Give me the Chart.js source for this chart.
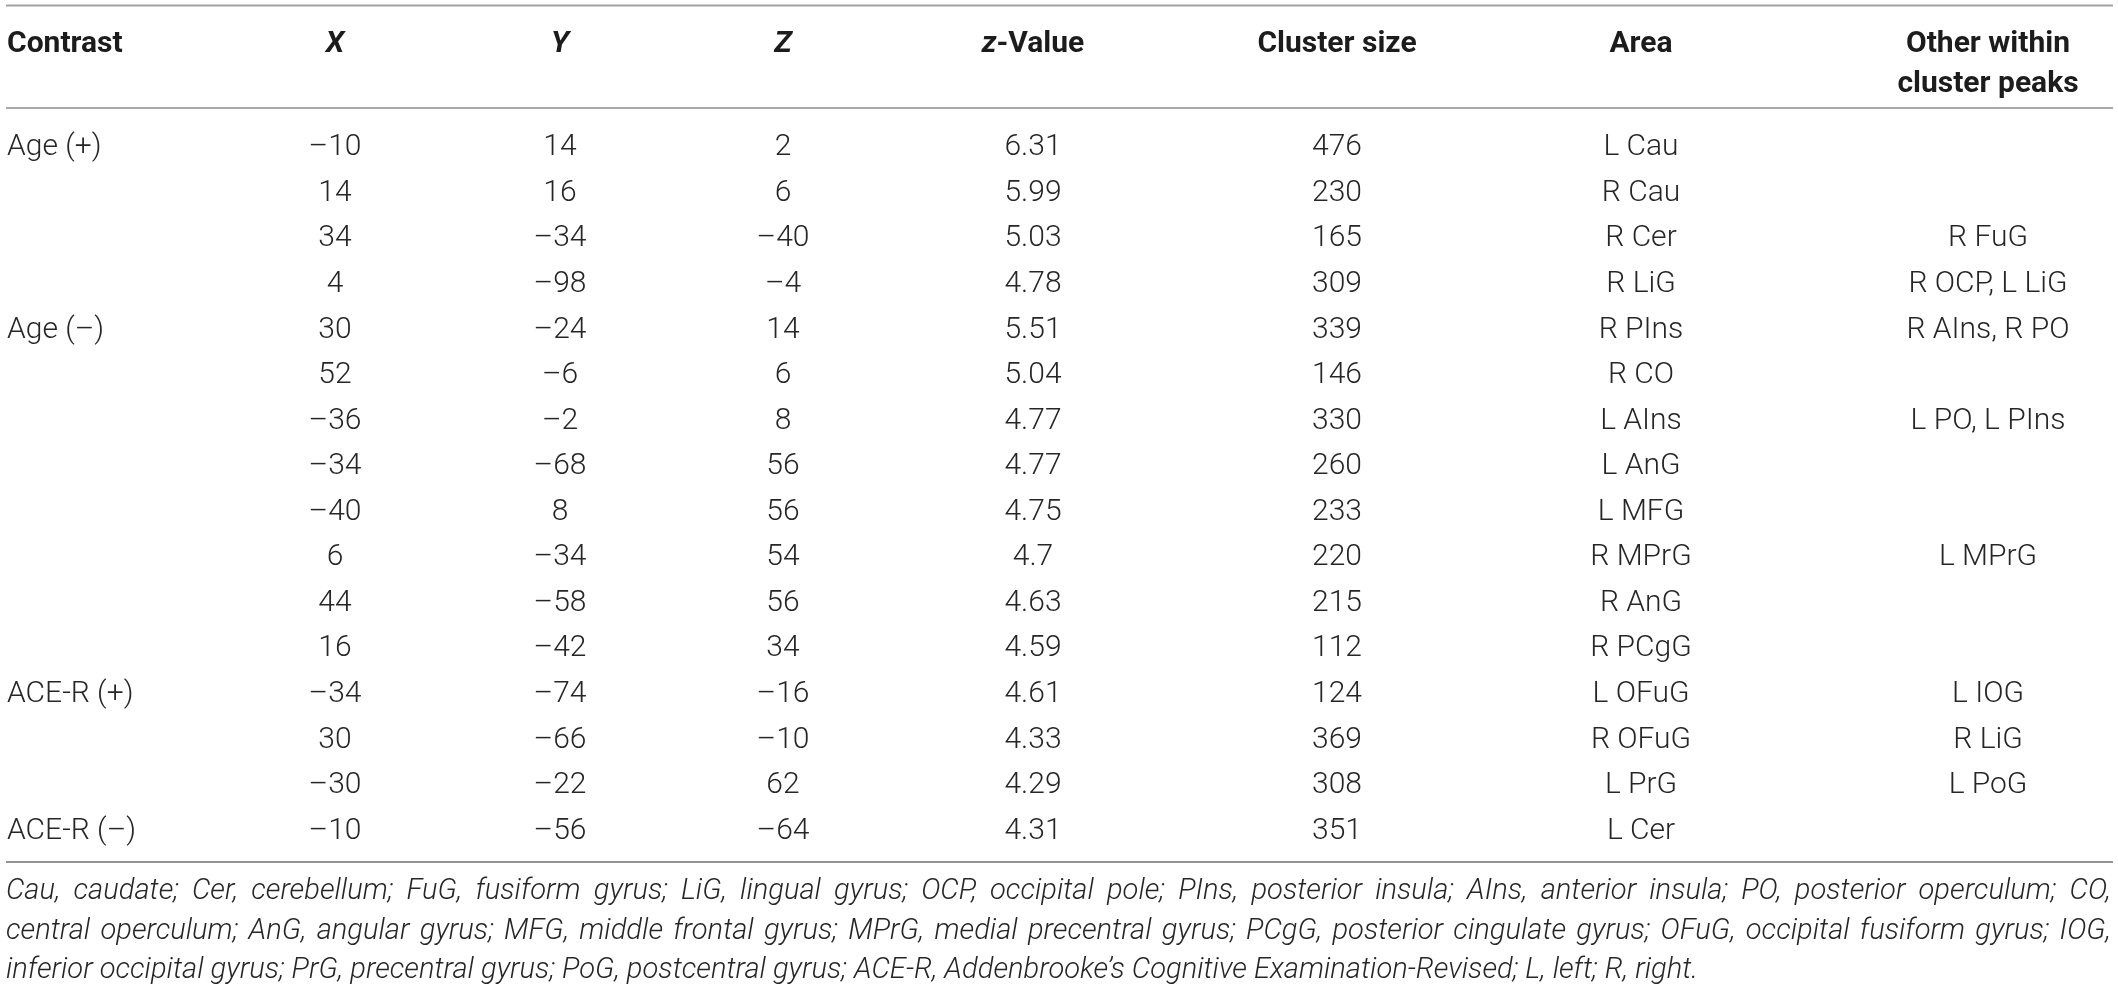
<!DOCTYPE html>
<html>
<head>
<meta charset="utf-8">
<script src="https://cdn.jsdelivr.net/npm/chart.js@4.4.1/dist/chart.umd.min.js"></script>
<style>
  html, body { margin: 0; padding: 0; background: #fff; }
  #wrap { width: 2118px; height: 986px; }
</style>
</head>
<body>
<div id="wrap"><canvas id="tabela" width="2118" height="986"></canvas></div>
<script>
// dados da tabela (uma linha por pico)
const contrasts = ['Age (+)', '', '', '', 'Age (\u2013)', '', '', '', '', '', '', '', 'ACE-R (+)', '', '', 'ACE-R (\u2013)'];
const coordX = [-10, 14, 34, 4, 30, 52, -36, -34, -40, 6, 44, 16, -34, 30, -30, -10];
const coordY = [14, 16, -34, -98, -24, -6, -2, -68, 8, -34, -58, -42, -74, -66, -22, -56];
const coordZ = [2, 6, -40, -4, 14, 6, 8, 56, 56, 54, 56, 34, -16, -10, 62, -64];
const zValues = [6.31, 5.99, 5.03, 4.78, 5.51, 5.04, 4.77, 4.77, 4.75, 4.7, 4.63, 4.59, 4.61, 4.33, 4.29, 4.31];
const clusterSizes = [476, 230, 165, 309, 339, 146, 330, 260, 233, 220, 215, 112, 124, 369, 308, 351];
const areas = ['L Cau', 'R Cau', 'R Cer', 'R LiG', 'R PIns', 'R CO', 'L AIns', 'L AnG', 'L MFG', 'R MPrG', 'R AnG', 'R PCgG', 'L OFuG', 'R OFuG', 'L PrG', 'L Cer'];
const otherPeaks = ['', '', 'R FuG', 'R OCP, L LiG', 'R AIns, R PO', '', 'L PO, L PIns', '', '', 'L MPrG', '', '', 'L IOG', 'R LiG', 'L PoG', ''];
const footnoteLines = [
    'Cau, caudate; Cer, cerebellum; FuG, fusiform gyrus; LiG, lingual gyrus; OCP, occipital pole; PIns, posterior insula; AIns, anterior insula; PO, posterior operculum; CO,',
    'central operculum; AnG, angular gyrus; MFG, middle frontal gyrus; MPrG, medial precentral gyrus; PCgG, posterior cingulate gyrus; OFuG, occipital fusiform gyrus; IOG,',
    'inferior occipital gyrus; PrG, precentral gyrus; PoG, postcentral gyrus; ACE-R, Addenbrooke\u2019s Cognitive Examination-Revised; L, left; R, right.'
];

const fmt = (v) => v < 0 ? '\u2013' + Math.abs(v) : String(v);

// colunas: cabeçalho, valores, posição e alinhamento
const columns = [
    { header: [['Contrast', '']], values: contrasts, at: 7, align: 'left' },
    { header: [['', 'X']], values: coordX.map(fmt), at: 335, align: 'center' },
    { header: [['', 'Y']], values: coordY.map(fmt), at: 560, align: 'center' },
    { header: [['', 'Z']], values: coordZ.map(fmt), at: 783, align: 'center' },
    { header: [['-Value', 'z']], values: zValues.map(fmt), at: 1033, align: 'center' },
    { header: [['Cluster size', '']], values: clusterSizes.map(fmt), at: 1337, align: 'center' },
    { header: [['Area', '']], values: areas, at: 1641, align: 'center' },
    { header: [['Other within', ''], ['cluster peaks', '']], values: otherPeaks, at: 1988, align: 'center' }
];

const FONT = 'Roboto, "Liberation Sans", sans-serif';

const tablePlugin = {
    id: 'tablePlugin',
    afterDatasetsDraw(chart) {
        const ctx = chart.ctx;
        const area = chart.chartArea;
        const xs = chart.scales.x;
        ctx.save();

        // linhas horizontais
        const rule = (y, color, w) => {
            ctx.beginPath();
            ctx.strokeStyle = color;
            ctx.lineWidth = w;
            ctx.moveTo(6, y);
            ctx.lineTo(2113, y);
            ctx.stroke();
        };
        rule(area.top - 116.5, '#a2a2a2', 2);
        rule(area.top - 14, '#a8a8a8', 2);
        rule(area.bottom + 11, '#707070', 1.5);

        // cabeçalho
        ctx.fillStyle = '#1c1c1c';
        ctx.textBaseline = 'alphabetic';
        const bold = '700 30px ' + FONT;
        const boldIt = 'italic 700 30px ' + FONT;
        columns.forEach((col) => {
            const cx = xs.getPixelForValue(col.at);
            col.header.forEach((line, li) => {
                const y = area.top - 70.5 + li * 40;
                const [plain, ital] = line;
                ctx.font = boldIt;
                const wi = ital ? ctx.measureText(ital).width : 0;
                ctx.font = bold;
                const wp = plain ? ctx.measureText(plain).width : 0;
                let x = col.align === 'left' ? cx : cx - (wi + wp) / 2;
                ctx.textAlign = 'left';
                if (ital) { ctx.font = boldIt; ctx.fillText(ital, x, y); x += wi; }
                if (plain) { ctx.font = bold; ctx.fillText(plain, x, y); }
            });
        });

        // células
        ctx.fillStyle = '#262626';
        ctx.font = '300 30px ' + FONT;
        chart.data.datasets.forEach((ds, di) => {
            const meta = chart.getDatasetMeta(di);
            const col = columns[di];
            ctx.textAlign = col.align;
            meta.data.forEach((pt, i) => {
                const txt = col.values[i];
                if (txt) ctx.fillText(txt, pt.x, pt.y + 10.5);
            });
        });

        // nota de rodapé (justificada, exceto a última linha)
        ctx.fillStyle = '#262626';
        ctx.font = 'italic 300 30px ' + FONT;
        ctx.textAlign = 'left';
        const left = 6, right = 2111;
        const lastWidth = 1692; // largura da última linha na referência
        const last = footnoteLines[footnoteLines.length - 1];
        const sx = lastWidth / ctx.measureText(last).width;
        footnoteLines.forEach((line, li) => {
            const y = area.bottom + 48 + li * 39.5;
            ctx.save();
            ctx.translate(left, y);
            ctx.scale(sx, 1);
            if (li === footnoteLines.length - 1) {
                ctx.fillText(line, 0, 0);
                ctx.restore();
                return;
            }
            const target = (right - left) / sx;
            const words = line.split(' ');
            const widths = words.map(w => ctx.measureText(w).width);
            const sum = widths.reduce((a, b) => a + b, 0);
            const gap = (target - sum) / (words.length - 1);
            if (gap < 3) {
                ctx.fillText(line, 0, 0, target);
            } else {
                let x = 0;
                words.forEach((w, k) => {
                    ctx.fillText(w, x, 0);
                    x += widths[k] + gap;
                });
            }
            ctx.restore();
        });
        ctx.restore();
    }
};

const rowIndex = contrasts.map((_, i) => i);

new Chart(document.getElementById('tabela').getContext('2d'), {
    type: 'scatter',
    data: {
        datasets: columns.map((col) => ({
            label: col.header[0].join(''),
            data: rowIndex.map((i) => ({ x: col.at, y: i })),
            pointRadius: 0,
            pointHoverRadius: 0
        }))
    },
    options: {
        responsive: false,
        devicePixelRatio: 1,
        animation: false,
        layout: { padding: { top: 122, bottom: 135, left: 0, right: 0 } },
        scales: {
            x: { type: 'linear', min: 0, max: 2118, display: false },
            y: { type: 'linear', min: -0.5, max: 15.5, reverse: true, display: false }
        },
        plugins: {
            legend: { display: false },
            tooltip: { enabled: false }
        }
    },
    plugins: [tablePlugin]
});
</script>
</body>
</html>
